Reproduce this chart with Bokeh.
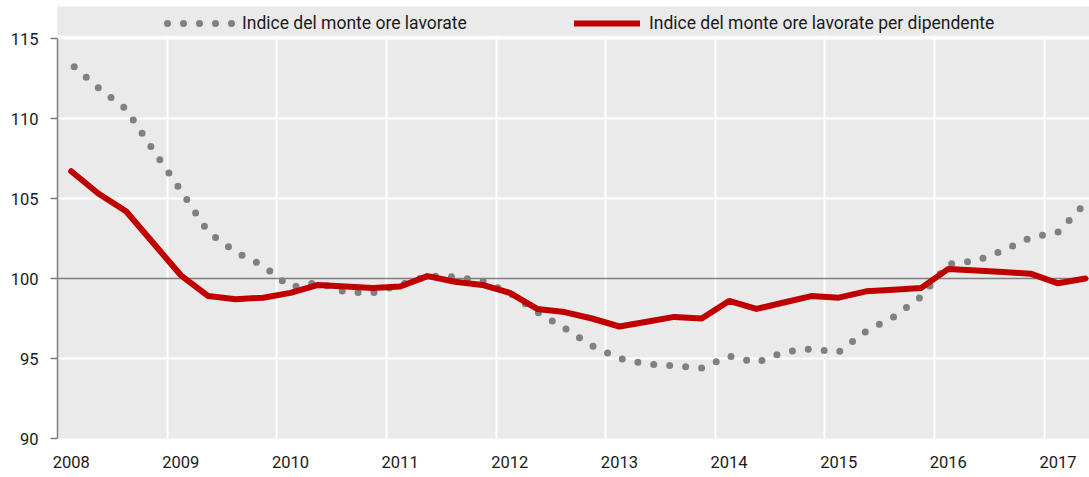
from bokeh.plotting import figure
from bokeh.models import (Range1d, FixedTicker, Span, BoxAnnotation, Legend, LegendItem)
from bokeh.embed import file_html
from bokeh.resources import INLINE

# ---- data (quarterly, 2008 Q1 .. 2017 Q2) ----
years = ["2008", "2009", "2010", "2011", "2012", "2013", "2014", "2015", "2016", "2017"]
quarter_index = list(range(38))

monte_ore = [113.4, 111.9, 110.6, 108.0, 105.5, 102.9, 101.65, 100.8,
             99.45, 99.75, 99.15, 99.1, 99.6, 100.15, 100.1, 99.85,
             99.1, 97.9, 96.9, 95.8, 95.0, 94.65, 94.55, 94.4,
             95.15, 94.75, 95.4, 95.6, 95.4, 96.7, 97.6, 98.85,
             100.9, 101.1, 101.75, 102.55, 102.9, 104.7]

monte_ore_dip = [106.7, 105.3, 104.2, 102.2, 100.2, 98.9, 98.7, 98.8,
                 99.1, 99.6, 99.5, 99.4, 99.5, 100.15, 99.8, 99.6,
                 99.1, 98.1, 97.9, 97.5, 97.0, 97.3, 97.6, 97.5,
                 98.6, 98.1, 98.5, 98.9, 98.8, 99.2, 99.3, 99.4,
                 100.6, 100.5, 100.4, 100.3, 99.7, 100.0]

label_1 = "Indice del monte ore lavorate"
label_2 = "Indice del monte ore lavorate per dipendente"

y_ticks = [90, 95, 100, 105, 110, 115]

FONT = "Roboto"
TXT = "#1a1a1a"
BG = "#EAEAEA"

p = figure(width=1089, height=477, output_backend="svg", toolbar_location=None,
           x_range=Range1d(-0.5, 37.15), y_range=Range1d(90, 117.0),
           min_border_left=57, min_border_right=0, min_border_top=6, min_border_bottom=39)
p.background_fill_color = BG
p.border_fill_color = "white"
p.outline_line_color = None

# grids
p.xgrid.ticker = FixedTicker(ticks=[3.5 + 4 * i for i in range(9)])
p.ygrid.ticker = FixedTicker(ticks=[95, 105, 110, 115])
for g in (p.xgrid, p.ygrid):
    g.grid_line_color = "white"
    g.grid_line_width = 2

p.add_layout(Span(location=100, dimension="width", line_color="#808080",
                  line_width=1.3, level="underlay"))

# series
r_gray = p.line(quarter_index, monte_ore, line_color="#808080", line_width=7,
                line_dash="0 16", line_dash_offset=12, line_cap="round", line_join="round")
r_red = p.line(quarter_index, monte_ore_dip, line_color="#C00000", line_width=6,
               line_cap="round", line_join="round")

# legend band
p.add_layout(BoxAnnotation(bottom=115, top=115.19, fill_color="white", fill_alpha=1,
                           line_color=None))
p.add_layout(BoxAnnotation(bottom=115.19, fill_color=BG, fill_alpha=1, line_color=None))

for rend, lab, xpos, gw, st in ((r_gray, label_1, 106, 72, 7),
                                (r_red, label_2, 517, 66, 9)):
    lg = Legend(items=[LegendItem(label=lab, renderers=[rend])], location=(xpos, 405),
                orientation="horizontal", padding=0, margin=0, spacing=0,
                glyph_width=gw, glyph_height=20, label_height=20, label_standoff=st,
                label_text_font=FONT, label_text_font_size="17.5px", label_text_color=TXT,
                background_fill_alpha=0, border_line_color=None)
    p.add_layout(lg)

# axes
ya = p.yaxis[0]
ya.ticker = FixedTicker(ticks=y_ticks)
ya.bounds = (90, 115)
ya.axis_line_color = "#808080"
ya.axis_line_width = 1.5
ya.major_tick_line_color = "#808080"
ya.major_tick_line_width = 1.5
ya.major_tick_out = 7
ya.major_tick_in = 0
ya.minor_tick_line_color = None
ya.major_label_standoff = 12
ya.major_label_text_font = FONT
ya.major_label_text_font_size = "16.5px"
ya.major_label_text_color = TXT

xa = p.xaxis[0]
xa.ticker = FixedTicker(ticks=[4 * i for i in range(len(years))])
xa.major_label_overrides = {4 * i: y for i, y in enumerate(years)}
xa.axis_line_color = None
xa.major_tick_line_color = None
xa.minor_tick_line_color = None
xa.major_tick_out = 0
xa.major_label_standoff = 17
xa.major_label_text_font = FONT
xa.major_label_text_font_size = "16.5px"
xa.major_label_text_color = TXT

open("out.html", "w").write(file_html(p, INLINE))
